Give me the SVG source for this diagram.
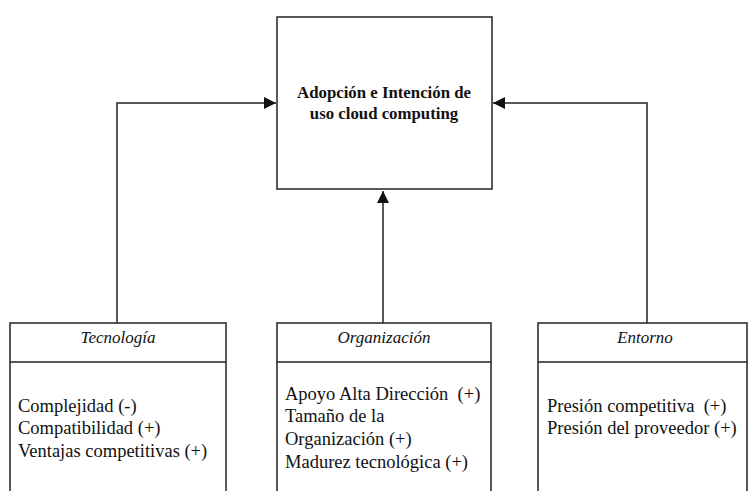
<svg xmlns="http://www.w3.org/2000/svg" width="749" height="491" viewBox="0 0 749 491">
<style>
.box{fill:#fff;stroke:#222;stroke-width:1.5}
.ln{fill:none;stroke:#222;stroke-width:1.5}
.t{font-family:"Liberation Serif","Times New Roman",serif;fill:#111}
.title{font-size:16.8px;font-weight:bold;text-anchor:middle}
.hd{font-size:17px;font-style:italic;text-anchor:middle}
.bd{font-size:18.5px}
</style>
<defs>
<marker id="ah" viewBox="0 0 10 10" refX="10" refY="5" markerWidth="12" markerHeight="12" markerUnits="userSpaceOnUse" orient="auto">
<path d="M0,0 L10,5 L0,10 z" fill="#111"/>
</marker>
</defs>
<rect width="749" height="491" fill="#fff"/>
<g id="connectors">
<polyline class="ln" points="117,323 117,103 276,103" marker-end="url(#ah)"/>
<polyline class="ln" points="647,323 647,103 493,103" marker-end="url(#ah)"/>
<line class="ln" x1="383" y1="323" x2="383" y2="191" marker-end="url(#ah)"/>
</g>
<g id="adopcion">
<rect class="box" x="277" y="17" width="215" height="172"/>
<text class="t title" x="384" y="98">Adopción e Intención de</text>
<text class="t title" x="384" y="119">uso cloud computing</text>
</g>
<g id="tecnologia">
<rect class="box" x="10" y="323" width="216" height="180"/>
<line class="ln" x1="10" y1="362" x2="226" y2="362"/>
<text class="t hd" x="118" y="343">Tecnología</text>
<text class="t bd" x="18" y="412">Complejidad (-)</text>
<text class="t bd" x="18" y="434">Compatibilidad (+)</text>
<text class="t bd" x="18" y="457">Ventajas competitivas (+)</text>
</g>
<g id="organizacion">
<rect class="box" x="277" y="323" width="214" height="180"/>
<line class="ln" x1="277" y1="362" x2="491" y2="362"/>
<text class="t hd" x="384" y="343">Organización</text>
<text class="t bd" x="285" y="400" xml:space="preserve">Apoyo Alta Dirección  (+)</text>
<text class="t bd" x="285" y="422">Tamaño de la</text>
<text class="t bd" x="285" y="445">Organización (+)</text>
<text class="t bd" x="285" y="468">Madurez tecnológica (+)</text>
</g>
<g id="entorno">
<rect class="box" x="538" y="323" width="209" height="180"/>
<line class="ln" x1="538" y1="362" x2="747" y2="362"/>
<text class="t hd" x="645" y="343">Entorno</text>
<text class="t bd" x="547" y="412" xml:space="preserve">Presión competitiva  (+)</text>
<text class="t bd" x="547" y="434">Presión del proveedor (+)</text>
</g>
</svg>
